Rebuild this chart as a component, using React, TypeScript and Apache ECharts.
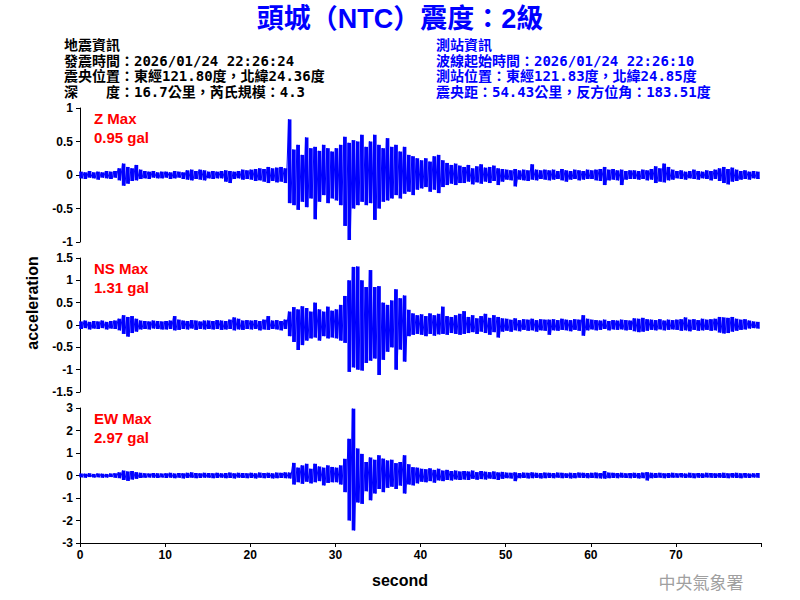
import React, { useEffect, useRef } from "react";
import * as echarts from "echarts";

// ---- data ----
const binSeconds = 0.5; // each bin holds one positive and one negative peak
const xMax = 79.99;
const xTicks = [0, 10, 20, 30, 40, 50, 60, 70];

const titleText = "頭城（NTC）震度：2級";
const quakeInfo = [
  "地震資訊",
  "發震時間：2026/01/24 22:26:24",
  "震央位置：東經121.80度，北緯24.36度",
  "深　　度：16.7公里，芮氏規模：4.3",
];
const stationInfo = [
  "測站資訊",
  "波線起始時間：2026/01/24 22:26:10",
  "測站位置：東經121.83度，北緯24.85度",
  "震央距：54.43公里，反方位角：183.51度",
];
const channelNames = ["Z Max", "NS Max", "EW Max"];
const channelMax = ["0.95 gal", "1.31 gal", "2.97 gal"];
const yRanges = [
  [-1, 1, 0.5],
  [-1.5, 1.5, 0.5],
  [-3, 3, 1],
];

const zHi = [
  0.05, 0.04, 0.06, 0.04, 0.05, 0.04, 0.06, 0.05, 0.06, 0.10,
  0.17, 0.12, 0.10, 0.15, 0.08, 0.06, 0.05, 0.06, 0.04, 0.05,
  0.05, 0.04, 0.06, 0.05, 0.04, 0.07, 0.08, 0.06, 0.08, 0.07,
  0.05, 0.06, 0.05, 0.06, 0.07, 0.06, 0.05, 0.06, 0.08, 0.07,
  0.08, 0.09, 0.10, 0.09, 0.12, 0.10, 0.11, 0.12, 0.10, 0.83,
  0.38, 0.45, 0.30, 0.56, 0.40, 0.42, 0.36, 0.45, 0.40, 0.35,
  0.40, 0.45, 0.57, 0.48, 0.52, 0.50, 0.60, 0.42, 0.50, 0.60,
  0.45, 0.40, 0.55, 0.42, 0.45, 0.35, 0.42, 0.30, 0.28, 0.25,
  0.22, 0.25, 0.20, 0.28, 0.30, 0.22, 0.18, 0.15, 0.17, 0.14,
  0.12, 0.15, 0.10, 0.13, 0.16, 0.11, 0.12, 0.14, 0.10, 0.09,
  0.08, 0.07, 0.09, 0.07, 0.08, 0.07, 0.16, 0.08, 0.07, 0.08,
  0.07, 0.08, 0.06, 0.09, 0.07, 0.06, 0.08, 0.07, 0.06, 0.08,
  0.07, 0.08, 0.09, 0.12, 0.08, 0.09, 0.07, 0.08, 0.06, 0.07,
  0.07, 0.06, 0.08, 0.07, 0.09, 0.13, 0.10, 0.17, 0.12, 0.08,
  0.06, 0.07, 0.05, 0.06, 0.08, 0.06, 0.05, 0.07, 0.06, 0.08,
  0.10, 0.12, 0.09, 0.11, 0.08, 0.06, 0.07, 0.05, 0.06, 0.05,
];
const zLo = [
  -0.05, -0.06, -0.04, -0.05, -0.07, -0.04, -0.05, -0.06, -0.04, -0.08,
  -0.16, -0.13, -0.09, -0.08, -0.06, -0.05, -0.06, -0.04, -0.05, -0.05,
  -0.04, -0.06, -0.05, -0.04, -0.06, -0.07, -0.08, -0.06, -0.07, -0.08,
  -0.05, -0.06, -0.05, -0.05, -0.10, -0.12, -0.06, -0.05, -0.07, -0.06,
  -0.07, -0.09, -0.08, -0.10, -0.12, -0.09, -0.11, -0.10, -0.12, -0.42,
  -0.45, -0.52, -0.40, -0.48, -0.35, -0.66, -0.40, -0.30, -0.42, -0.35,
  -0.38, -0.45, -0.76, -0.97, -0.50, -0.45, -0.40, -0.45, -0.42, -0.67,
  -0.50, -0.40, -0.38, -0.35, -0.30, -0.35, -0.28, -0.25, -0.30, -0.22,
  -0.20, -0.18, -0.25, -0.22, -0.27, -0.18, -0.15, -0.13, -0.15, -0.12,
  -0.12, -0.10, -0.14, -0.11, -0.13, -0.10, -0.12, -0.09, -0.15, -0.10,
  -0.07, -0.08, -0.17, -0.07, -0.08, -0.09, -0.07, -0.08, -0.06, -0.07,
  -0.08, -0.07, -0.06, -0.08, -0.10, -0.07, -0.06, -0.08, -0.07, -0.06,
  -0.06, -0.08, -0.09, -0.15, -0.08, -0.07, -0.08, -0.15, -0.07, -0.06,
  -0.06, -0.07, -0.06, -0.08, -0.07, -0.12, -0.10, -0.11, -0.08, -0.07,
  -0.05, -0.06, -0.07, -0.05, -0.06, -0.07, -0.05, -0.06, -0.08, -0.06,
  -0.09, -0.12, -0.14, -0.10, -0.09, -0.07, -0.06, -0.07, -0.05, -0.06,
];
const nsHi = [
  0.08, 0.10, 0.07, 0.09, 0.08, 0.10, 0.07, 0.09, 0.10, 0.14,
  0.22, 0.18, 0.20, 0.14, 0.10, 0.09, 0.08, 0.10, 0.09, 0.08,
  0.09, 0.10, 0.20, 0.12, 0.10, 0.09, 0.11, 0.10, 0.08, 0.10,
  0.10, 0.09, 0.11, 0.10, 0.09, 0.12, 0.17, 0.14, 0.10, 0.11,
  0.10, 0.11, 0.09, 0.12, 0.20, 0.10, 0.11, 0.09, 0.12, 0.30,
  0.40, 0.35, 0.42, 0.38, 0.30, 0.50, 0.35, 0.30, 0.41, 0.32,
  0.35, 0.45, 0.65, 1.00, 1.30, 1.31, 1.00, 0.85, 1.23, 0.85,
  0.87, 0.50, 0.45, 0.55, 0.80, 0.60, 0.66, 0.34, 0.26, 0.22,
  0.24, 0.20, 0.26, 0.22, 0.25, 0.41, 0.20, 0.18, 0.22, 0.25,
  0.31, 0.18, 0.22, 0.15, 0.20, 0.25, 0.16, 0.22, 0.18, 0.15,
  0.14, 0.12, 0.15, 0.11, 0.13, 0.12, 0.14, 0.11, 0.13, 0.12,
  0.12, 0.13, 0.11, 0.14, 0.12, 0.11, 0.13, 0.12, 0.22, 0.14,
  0.12, 0.11, 0.10, 0.12, 0.09, 0.11, 0.10, 0.12, 0.11, 0.10,
  0.15, 0.14, 0.16, 0.13, 0.12, 0.11, 0.13, 0.10, 0.12, 0.11,
  0.12, 0.13, 0.17, 0.12, 0.13, 0.11, 0.14, 0.12, 0.13, 0.14,
  0.18, 0.17, 0.16, 0.18, 0.14, 0.12, 0.13, 0.10, 0.08, 0.07,
];
const nsLo = [
  -0.09, -0.07, -0.10, -0.08, -0.09, -0.07, -0.10, -0.08, -0.09, -0.12,
  -0.20, -0.26, -0.18, -0.15, -0.10, -0.09, -0.10, -0.08, -0.09, -0.10,
  -0.10, -0.09, -0.12, -0.11, -0.09, -0.10, -0.08, -0.11, -0.09, -0.10,
  -0.09, -0.10, -0.09, -0.11, -0.10, -0.09, -0.12, -0.10, -0.11, -0.09,
  -0.10, -0.09, -0.12, -0.10, -0.11, -0.09, -0.10, -0.12, -0.09, -0.25,
  -0.38, -0.56, -0.45, -0.35, -0.30, -0.28, -0.35, -0.25, -0.30, -0.28,
  -0.30, -0.35, -0.40, -1.05, -0.95, -1.00, -1.02, -0.85, -0.80, -0.75,
  -1.12, -0.78, -0.60, -0.50, -1.00, -0.55, -0.82, -0.25, -0.22, -0.20,
  -0.22, -0.25, -0.20, -0.24, -0.21, -0.20, -0.22, -0.18, -0.20, -0.22,
  -0.20, -0.18, -0.16, -0.20, -0.15, -0.18, -0.22, -0.16, -0.28, -0.15,
  -0.13, -0.15, -0.12, -0.14, -0.11, -0.13, -0.12, -0.15, -0.12, -0.13,
  -0.22, -0.12, -0.13, -0.11, -0.12, -0.14, -0.11, -0.13, -0.24, -0.12,
  -0.10, -0.12, -0.11, -0.09, -0.12, -0.10, -0.11, -0.10, -0.12, -0.11,
  -0.14, -0.16, -0.15, -0.13, -0.11, -0.12, -0.10, -0.12, -0.11, -0.10,
  -0.11, -0.13, -0.12, -0.14, -0.11, -0.13, -0.12, -0.11, -0.13, -0.12,
  -0.17, -0.19, -0.18, -0.15, -0.13, -0.11, -0.10, -0.08, -0.07, -0.08,
];
const ewHi = [
  0.09, 0.08, 0.10, 0.07, 0.09, 0.08, 0.07, 0.09, 0.10, 0.14,
  0.22, 0.18, 0.20, 0.15, 0.12, 0.10, 0.09, 0.11, 0.10, 0.09,
  0.10, 0.12, 0.09, 0.11, 0.10, 0.12, 0.14, 0.11, 0.10, 0.12,
  0.11, 0.10, 0.12, 0.10, 0.11, 0.13, 0.10, 0.12, 0.11, 0.10,
  0.12, 0.10, 0.13, 0.11, 0.12, 0.10, 0.13, 0.12, 0.14, 0.13,
  0.56, 0.35, 0.45, 0.52, 0.30, 0.52, 0.40, 0.35, 0.45, 0.38,
  0.35, 0.45, 0.74, 1.63, 2.97, 1.20, 0.96, 0.60, 0.80, 0.70,
  0.90, 0.75, 0.67, 0.70, 0.55, 0.60, 0.90, 0.50, 0.37, 0.35,
  0.30, 0.28, 0.32, 0.25, 0.30, 0.22, 0.25, 0.20, 0.22, 0.18,
  0.20, 0.18, 0.22, 0.15, 0.20, 0.17, 0.15, 0.18, 0.14, 0.16,
  0.13, 0.12, 0.14, 0.11, 0.13, 0.12, 0.14, 0.12, 0.11, 0.13,
  0.12, 0.11, 0.13, 0.12, 0.10, 0.12, 0.11, 0.13, 0.12, 0.11,
  0.12, 0.13, 0.11, 0.20, 0.13, 0.12, 0.11, 0.12, 0.10, 0.11,
  0.12, 0.11, 0.13, 0.15, 0.12, 0.11, 0.12, 0.10, 0.11, 0.12,
  0.10, 0.11, 0.09, 0.12, 0.10, 0.11, 0.10, 0.12, 0.11, 0.10,
  0.11, 0.12, 0.10, 0.11, 0.12, 0.10, 0.11, 0.09, 0.10, 0.11,
];
const ewLo = [
  -0.08, -0.10, -0.07, -0.09, -0.08, -0.10, -0.09, -0.07, -0.10, -0.12,
  -0.20, -0.24, -0.18, -0.15, -0.11, -0.10, -0.09, -0.10, -0.11, -0.09,
  -0.11, -0.10, -0.12, -0.10, -0.13, -0.11, -0.10, -0.12, -0.11, -0.10,
  -0.10, -0.12, -0.11, -0.10, -0.12, -0.11, -0.13, -0.10, -0.11, -0.12,
  -0.11, -0.13, -0.10, -0.12, -0.11, -0.13, -0.12, -0.11, -0.12, -0.13,
  -0.40, -0.30, -0.37, -0.28, -0.35, -0.30, -0.25, -0.44, -0.33, -0.30,
  -0.30, -0.40, -0.74, -2.00, -2.44, -1.20, -1.26, -0.70, -1.10, -0.80,
  -0.60, -0.74, -0.55, -0.50, -0.60, -0.45, -0.80, -0.40, -0.44, -0.35,
  -0.28, -0.30, -0.25, -0.32, -0.22, -0.25, -0.20, -0.22, -0.18, -0.20,
  -0.18, -0.20, -0.15, -0.19, -0.16, -0.18, -0.14, -0.16, -0.20, -0.15,
  -0.12, -0.13, -0.25, -0.12, -0.11, -0.13, -0.12, -0.11, -0.13, -0.12,
  -0.11, -0.12, -0.10, -0.12, -0.11, -0.13, -0.12, -0.10, -0.11, -0.12,
  -0.11, -0.12, -0.13, -0.14, -0.12, -0.11, -0.12, -0.10, -0.11, -0.12,
  -0.11, -0.13, -0.12, -0.22, -0.12, -0.11, -0.10, -0.12, -0.11, -0.10,
  -0.10, -0.09, -0.11, -0.10, -0.12, -0.10, -0.11, -0.09, -0.10, -0.11,
  -0.10, -0.11, -0.12, -0.10, -0.11, -0.12, -0.10, -0.11, -0.09, -0.10,
];

const channels = [
  { hi: zHi, lo: zLo },
  { hi: nsHi, lo: nsLo },
  { hi: ewHi, lo: ewLo },
];

// ---- styling / layout ----
const LATIN = "'Liberation Sans', Arial, 'Noto Sans CJK TC', sans-serif";
const HEADER = "'DejaVu Sans Mono', 'Noto Sans CJK TC', monospace";
const BLUE = "#0000ff";
const gridTops = [108, 258, 408];
const gridHeights = [134, 134, 135];
const gridLeft = 80;
const gridWidth = 681;

function toPoints(hi: number[], lo: number[]) {
  const pts: [number, number][] = [];
  for (let i = 0; i < hi.length; i++) {
    const t = i * binSeconds;
    pts.push([t, hi[i]]);
    pts.push([t + binSeconds / 2, lo[i]]);
  }
  return pts;
}

function toBins(hi: number[], lo: number[]) {
  return hi.map((h, i) => [i * binSeconds + binSeconds / 4, h, lo[i]]);
}

export default function App() {
  const ref = useRef<HTMLDivElement>(null);

  useEffect(() => {
    if (!ref.current) return;
    const chart = echarts.init(ref.current, undefined, { renderer: "svg" });

    const grids = gridTops.map((top, i) => ({
      left: gridLeft,
      top,
      width: gridWidth,
      height: gridHeights[i],
      containLabel: false,
    }));

    const xAxes = gridTops.map((_, i) => ({
      type: "value",
      gridIndex: i,
      min: 0,
      max: xMax,
      interval: 10,
      show: i === 2,
      axisLine: { show: true, onZero: false, lineStyle: { color: "#000", width: 1 } },
      axisTick: { show: true, inside: false, length: 4, lineStyle: { color: "#000" } },
      axisLabel: {
        show: true,
        color: "#000",
        fontSize: 12,
        fontWeight: "bold",
        fontFamily: LATIN,
        margin: 6,
        customValues: xTicks,
      },
      splitLine: { show: false },
    }));

    const yAxes = yRanges.map(([mn, mx, iv], i) => ({
      type: "value",
      gridIndex: i,
      min: mn,
      max: mx,
      interval: iv,
      axisLine: { show: true, onZero: false, lineStyle: { color: "#000", width: 1 } },
      axisTick: { show: true, inside: false, length: 4, lineStyle: { color: "#000" } },
      axisLabel: {
        color: "#000",
        fontSize: 12,
        fontWeight: "bold",
        fontFamily: LATIN,
        margin: 7,
      },
      splitLine: { show: false },
    }));

    const series: any[] = [];
    channels.forEach((c, i) => {
      series.push({
        type: "custom",
        xAxisIndex: i,
        yAxisIndex: i,
        data: toBins(c.hi, c.lo),
        encode: { x: 0, y: [1, 2] },
        silent: true,
        renderItem: (_params: any, api: any) => {
          const t = api.value(0);
          const top = api.coord([t, api.value(1)]);
          const bot = api.coord([t, api.value(2)]);
          const w = api.size([binSeconds, 0])[0] * 0.85;
          return {
            type: "rect",
            shape: { x: top[0] - w / 2, y: top[1], width: w, height: bot[1] - top[1] },
            style: { fill: BLUE },
          };
        },
      });
      series.push({
        type: "line",
        xAxisIndex: i,
        yAxisIndex: i,
        data: toPoints(c.hi, c.lo),
        showSymbol: false,
        symbol: "none",
        lineStyle: { color: BLUE, width: 1 },
        silent: true,
      });
    });

    const graphics: any[] = [];
    graphics.push({
      type: "text",
      x: 400,
      y: 19,
      style: {
        text: titleText,
        fill: BLUE,
        font: `bold 27px ${LATIN}`,
        align: "center",
        verticalAlign: "middle",
      },
    });
    const lineYs = [45, 60.5, 76, 91.5];
    quakeInfo.forEach((t, i) =>
      graphics.push({
        type: "text",
        x: 64,
        y: lineYs[i],
        style: { text: t, fill: "#000", font: `bold 14px ${HEADER}`, lineHeight: 15, align: "left", verticalAlign: "middle" },
      })
    );
    stationInfo.forEach((t, i) =>
      graphics.push({
        type: "text",
        x: 436,
        y: lineYs[i],
        style: { text: t, fill: BLUE, font: `bold 14px ${HEADER}`, lineHeight: 15, align: "left", verticalAlign: "middle" },
      })
    );
    gridTops.forEach((top, i) => {
      graphics.push({
        type: "text",
        x: 94,
        y: top + 10,
        style: { text: channelNames[i], fill: "#ff0000", font: `bold 15px ${LATIN}`, align: "left", verticalAlign: "middle" },
      });
      graphics.push({
        type: "text",
        x: 94,
        y: top + 29.5,
        style: { text: channelMax[i], fill: "#ff0000", font: `bold 15px ${LATIN}`, align: "left", verticalAlign: "middle" },
      });
    });
    graphics.push({
      type: "text",
      x: 32,
      y: 303,
      rotation: Math.PI / 2,
      style: { text: "acceleration", fill: "#000", font: `bold 16px ${LATIN}`, align: "center", verticalAlign: "middle" },
    });
    graphics.push({
      type: "text",
      x: 400,
      y: 580,
      style: { text: "second", fill: "#000", font: `bold 16px ${LATIN}`, align: "center", verticalAlign: "middle" },
    });
    graphics.push({
      type: "text",
      x: 701,
      y: 581,
      style: { text: "中央氣象署", fill: "#a0a0a0", font: `17px 'Noto Sans CJK TC', sans-serif`, align: "center", verticalAlign: "middle" },
    });

    chart.setOption({
      animation: false,
      backgroundColor: "#ffffff",
      grid: grids,
      xAxis: xAxes,
      yAxis: yAxes,
      series,
      graphic: graphics,
    });

    return () => chart.dispose();
  }, []);

  return (
    <div
      ref={ref}
      style={{ position: "absolute", left: 0, top: 0, width: 800, height: 600, background: "#fff" }}
    />
  );
}
